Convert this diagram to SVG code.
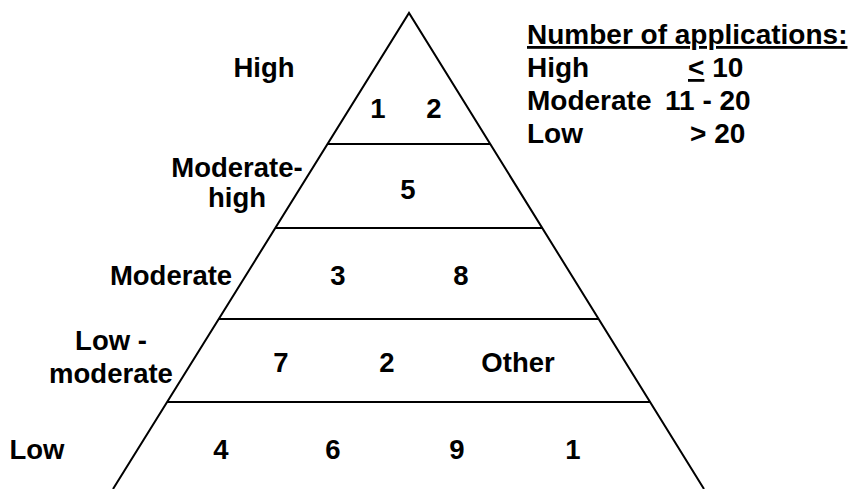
<svg xmlns="http://www.w3.org/2000/svg" width="851" height="489" viewBox="0 0 851 489">
<style>
  text { font-family: "Liberation Sans", Arial, sans-serif; font-weight: bold; font-size: 27.5px; fill: #000; }
  .c { text-anchor: middle; }
  .lg { font-size: 28px; }
  .ln { stroke: #000; stroke-width: 2; fill: none; }
</style>
<rect width="851" height="489" fill="#fff"/>
<g id="connectors">
  <path class="ln" d="M113,489 L409,13 L704,489"/>
  <line class="ln" x1="327.5" y1="144" x2="490" y2="144"/>
  <line class="ln" x1="275.3" y1="228" x2="542.3" y2="228"/>
  <line class="ln" x1="218.7" y1="319" x2="598.7" y2="319"/>
  <line class="ln" x1="167" y1="402" x2="650.2" y2="402"/>
</g>
<g id="level-high">
  <text class="c" x="264" y="77">High</text>
  <text class="c" x="378" y="118">1</text>
  <text class="c" x="434" y="118">2</text>
</g>
<g id="level-moderate-high">
  <text class="c" x="237" y="177">Moderate-</text>
  <text class="c" x="237" y="207">high</text>
  <text class="c" x="408" y="199">5</text>
</g>
<g id="level-moderate">
  <text class="c" x="171" y="285">Moderate</text>
  <text class="c" x="338" y="285">3</text>
  <text class="c" x="461" y="285">8</text>
</g>
<g id="level-low-moderate">
  <text class="c" x="111" y="350">Low -</text>
  <text class="c" x="111" y="383">moderate</text>
  <text class="c" x="281" y="372">7</text>
  <text class="c" x="387" y="372">2</text>
  <text class="c" x="518" y="372">Other</text>
</g>
<g id="level-low">
  <text class="c" x="37" y="459">Low</text>
  <text class="c" x="221" y="459">4</text>
  <text class="c" x="333" y="459">6</text>
  <text class="c" x="457" y="459">9</text>
  <text class="c" x="573" y="459">1</text>
</g>
<g id="legend">
  <text class="lg" x="527" y="44" text-decoration="underline">Number of applications:</text>
  <text class="lg" x="527" y="77">High</text>
  <text class="lg" x="688" y="77"><tspan text-decoration="underline">&lt;</tspan> 10</text>
  <text class="lg" x="527" y="110">Moderate</text>
  <text class="lg" x="665" y="110">11 - 20</text>
  <text class="lg" x="527" y="143">Low</text>
  <text class="lg" x="690" y="143">&gt; 20</text>
</g>
</svg>
